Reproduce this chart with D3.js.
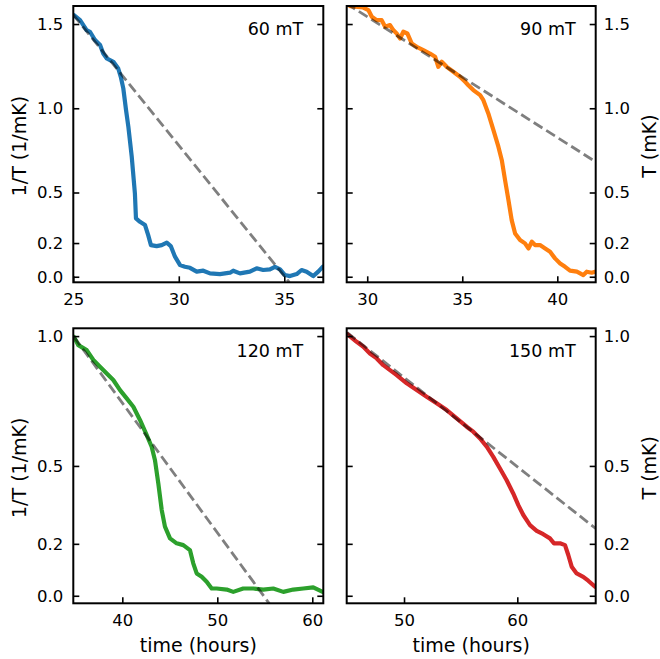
<!DOCTYPE html>
<html>
<head>
<meta charset="utf-8">
<script src="https://cdn.jsdelivr.net/npm/d3@7"></script>
<style>
	body { margin: 0; background: #ffffff; }
	svg { display: block; font-family: 'DejaVu Sans', sans-serif; }
</style>
</head>
<body>
<svg id="chart" width="660" height="659"></svg>
<script>
// readings taken off the plots, time in hours, 1/T in 1/mK
var time60 = [25.03, 25.32, 25.63, 25.79, 26.03, 26.27, 26.42, 26.58, 26.9, 27.13, 27.25, 27.37, 27.5, 27.61, 27.77, 27.92, 27.97, 28.16, 28.4, 28.55, 28.68, 28.95, 29.19, 29.43, 29.62, 29.82, 30.06, 30.29, 30.53, 30.85, 31.16, 31.48, 31.95, 32.43, 32.58, 32.9, 33.37, 33.69, 34.0, 34.32, 34.56, 34.8, 35.03, 35.27, 35.59, 35.82, 36.06, 36.37, 36.61, 36.82];
var invT60 = [1.553, 1.523, 1.464, 1.454, 1.405, 1.375, 1.325, 1.296, 1.276, 1.236, 1.187, 1.118, 0.989, 0.89, 0.712, 0.495, 0.346, 0.326, 0.307, 0.247, 0.188, 0.182, 0.188, 0.202, 0.182, 0.119, 0.069, 0.059, 0.053, 0.03, 0.036, 0.02, 0.016, 0.024, 0.036, 0.02, 0.03, 0.05, 0.04, 0.044, 0.059, 0.044, 0.01, 0.004, 0.016, 0.04, 0.03, 0.004, 0.03, 0.059];
var fit60 = [[25.0, 1.555], [35.24, -0.033]];

var time90 = [29.09, 29.79, 30.06, 30.24, 30.5, 30.76, 30.94, 31.2, 31.37, 31.55, 31.73, 31.9, 32.11, 32.34, 32.6, 32.95, 33.3, 33.57, 33.74, 33.92, 34.18, 34.53, 34.88, 35.15, 35.32, 35.58, 35.94, 36.11, 36.37, 36.64, 36.9, 37.08, 37.25, 37.43, 37.6, 37.78, 38.04, 38.3, 38.48, 38.66, 38.83, 39.09, 39.36, 39.62, 39.88, 40.15, 40.41, 40.67, 41.03, 41.37, 41.55, 41.81, 41.99];
var invT90 = [1.606, 1.598, 1.583, 1.543, 1.523, 1.523, 1.484, 1.494, 1.464, 1.444, 1.414, 1.454, 1.444, 1.385, 1.365, 1.345, 1.325, 1.306, 1.246, 1.276, 1.246, 1.217, 1.187, 1.157, 1.137, 1.108, 1.078, 1.048, 0.969, 0.87, 0.772, 0.692, 0.574, 0.455, 0.336, 0.257, 0.218, 0.198, 0.168, 0.208, 0.188, 0.188, 0.168, 0.148, 0.109, 0.079, 0.059, 0.036, 0.03, 0.01, 0.03, 0.024, 0.03];
var fit90 = [[28.9, 1.622], [42.02, 0.682]];

var time120 = [34.91, 35.37, 36.25, 36.95, 37.65, 38.36, 39.05, 39.76, 40.46, 41.16, 41.86, 42.57, 43.09, 43.44, 43.79, 44.15, 44.49, 45.02, 45.72, 46.42, 47.12, 47.47, 47.83, 48.36, 48.88, 49.41, 49.93, 50.99, 51.68, 52.73, 53.79, 54.84, 55.89, 56.95, 58.0, 59.05, 60.1, 61.09];
var invT120 = [0.997, 0.965, 0.946, 0.908, 0.882, 0.856, 0.831, 0.792, 0.76, 0.728, 0.677, 0.619, 0.574, 0.522, 0.433, 0.33, 0.266, 0.221, 0.202, 0.195, 0.176, 0.125, 0.086, 0.073, 0.054, 0.028, 0.028, 0.024, 0.015, 0.028, 0.028, 0.024, 0.028, 0.015, 0.024, 0.028, 0.032, 0.015];
var fit120 = [[34.91, 0.997], [55.47, -0.03]];

var time150 = [44.99, 45.82, 46.41, 46.99, 47.59, 48.17, 48.76, 49.35, 50.24, 51.12, 52.0, 52.88, 53.77, 54.65, 55.53, 56.11, 56.71, 57.3, 57.88, 58.47, 59.06, 59.64, 60.09, 60.53, 61.12, 61.71, 62.29, 62.88, 63.24, 63.77, 64.21, 64.5, 64.8, 65.24, 65.82, 66.26, 66.86];
var invT150 = [1.008, 0.978, 0.959, 0.933, 0.914, 0.888, 0.869, 0.85, 0.818, 0.792, 0.766, 0.741, 0.715, 0.683, 0.651, 0.632, 0.606, 0.574, 0.535, 0.49, 0.445, 0.394, 0.349, 0.311, 0.272, 0.25, 0.237, 0.221, 0.202, 0.202, 0.195, 0.157, 0.112, 0.086, 0.073, 0.058, 0.035];
var fit150 = [[44.99, 1.013], [66.92, 0.259]];

var fieldLabels = ['60 mT', '90 mT', '120 mT', '150 mT'];
var xTicksList = [[25, 30, 35], [30, 35, 40], [40, 50, 60], [50, 60]];
var yTicksTop = [0.0, 0.2, 0.5, 1.0, 1.5];
var yTicksBottom = [0.0, 0.2, 0.5, 1.0];

var panels = [
	{ label: fieldLabels[0], t: time60, v: invT60, fit: fit60, color: '#1f77b4', xd: [25, 36.85], yd: [-0.033, 1.607], xt: xTicksList[0], yt: yTicksTop, box: [73.3, 6, 323.3, 282.3], side: 'left' },
	{ label: fieldLabels[1], t: time90, v: invT90, fit: fit90, color: '#ff7f0e', xd: [28.92, 42.02], yd: [-0.033, 1.607], xt: xTicksList[1], yt: yTicksTop, box: [346.7, 6, 595.7, 282.3], side: 'right' },
	{ label: fieldLabels[2], t: time120, v: invT120, fit: fit120, color: '#2ca02c', xd: [34.84, 61.16], yd: [-0.029, 1.03], xt: xTicksList[2], yt: yTicksBottom, box: [73.3, 328.3, 323.3, 603.3], side: 'left' },
	{ label: fieldLabels[3], t: time150, v: invT150, fit: fit150, color: '#d62728', xd: [44.94, 66.92], yd: [-0.029, 1.03], xt: xTicksList[3], yt: yTicksBottom, box: [346.7, 328.3, 595.7, 603.3], side: 'right' }
];

var svg = d3.select('#chart');
var tickFont = 16.5;
var labelFont = 19;

function styleAxis(g) {
	g.select('.domain').remove();
	g.attr('font-family', "'DejaVu Sans', sans-serif").attr('font-size', tickFont);
	g.selectAll('.tick line').attr('stroke', '#000').attr('stroke-width', 1.6);
	g.selectAll('.tick text').attr('fill', '#000');
}

function drawPanel(p, i) {
	var x0 = p.box[0], y0 = p.box[1], x1 = p.box[2], y1 = p.box[3];
	var x = d3.scaleLinear().domain(p.xd).range([x0, x1]);
	var y = d3.scaleLinear().domain(p.yd).range([y1, y0]);

	svg.append('clipPath')
		.attr('id', 'clip' + i)
		.append('rect')
		.attr('x', x0).attr('y', y0)
		.attr('width', x1 - x0).attr('height', y1 - y0);

	var pts = p.t.map(function(t, j) { return [t, p.v[j]]; });
	var line = d3.line()
		.x(function(d) { return x(d[0]); })
		.y(function(d) { return y(d[1]); });

	var plot = svg.append('g').attr('clip-path', 'url(#clip' + i + ')');
	plot.append('path')
		.attr('d', line(pts))
		.attr('fill', 'none')
		.attr('stroke', p.color)
		.attr('stroke-width', 4.2)
		.attr('stroke-linejoin', 'round')
		.attr('stroke-linecap', 'round');

	plot.append('path')
		.attr('d', line(p.fit))
		.attr('fill', 'none')
		.attr('stroke', '#000')
		.attr('stroke-opacity', 0.5)
		.attr('stroke-width', 2.8)
		.attr('stroke-dasharray', '10.3,4.5');

	var fmtY = d3.format('.1f');
	var leftAxis = d3.axisLeft(y).tickValues(p.yt).tickSize(-6).tickPadding(10)
		.tickFormat(p.side === 'left' ? fmtY : function() { return ''; });
	var rightAxis = d3.axisRight(y).tickValues(p.yt).tickSize(-6).tickPadding(8)
		.tickFormat(p.side === 'right' ? fmtY : function() { return ''; });
	var bottomAxis = d3.axisBottom(x).tickValues(p.xt).tickSize(-6).tickPadding(10.5)
		.tickFormat(d3.format('d'));

	svg.append('g').attr('transform', 'translate(' + x0 + ',0)').call(leftAxis).call(styleAxis);
	svg.append('g').attr('transform', 'translate(' + x1 + ',0)').call(rightAxis).call(styleAxis);
	svg.append('g').attr('transform', 'translate(0,' + y1 + ')').call(bottomAxis).call(styleAxis);

	svg.append('rect')
		.attr('x', x0).attr('y', y0)
		.attr('width', x1 - x0).attr('height', y1 - y0)
		.attr('fill', 'none')
		.attr('stroke', '#000')
		.attr('stroke-width', 2);

	svg.append('text')
		.attr('x', x1 - 20)
		.attr('y', y0 + 29)
		.attr('text-anchor', 'end')
		.attr('font-size', 17.5)
		.attr('fill', '#000')
		.text(p.label);

	var midY = (y0 + y1) / 2 + 2;
	if (p.side === 'left') {
		svg.append('text')
			.attr('transform', 'translate(26,' + midY + ') rotate(-90)')
			.attr('text-anchor', 'middle')
			.attr('font-size', labelFont)
			.text('1/T (1/mK)');
	} else {
		svg.append('text')
			.attr('transform', 'translate(656,' + midY + ') rotate(-90)')
			.attr('text-anchor', 'middle')
			.attr('font-size', labelFont)
			.text('T (mK)');
	}
	if (i >= 2) {
		svg.append('text')
			.attr('x', (x0 + x1) / 2)
			.attr('y', 652)
			.attr('text-anchor', 'middle')
			.attr('font-size', labelFont)
			.text('time (hours)');
	}
}

panels.forEach(drawPanel);
</script>
</body>
</html>
